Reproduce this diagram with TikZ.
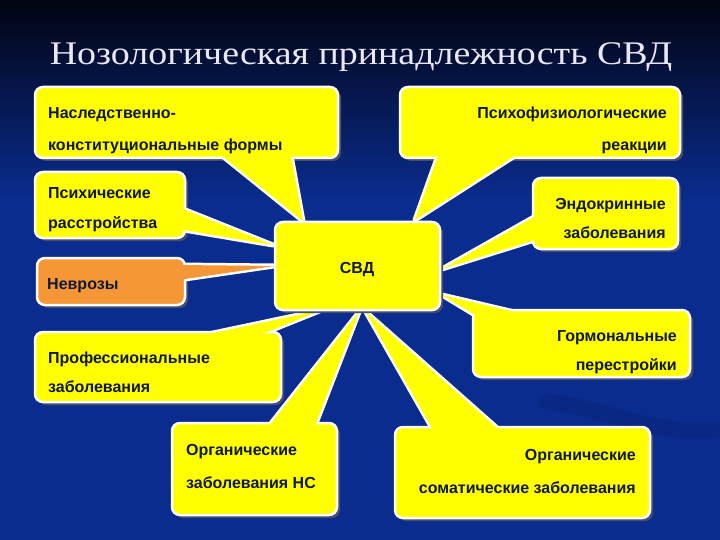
\documentclass[tikz,border=0pt]{standalone}
\usepackage{fontspec}
\setmainfont{Liberation Serif}
\newfontfamily\arialf{Liberation Sans}
\definecolor{bgtop}{RGB}{2,4,18}
\definecolor{bgmid}{RGB}{6,24,82}
\definecolor{bgblue}{RGB}{10,44,142}
\definecolor{callyel}{RGB}{255,255,0}
\definecolor{callora}{RGB}{245,150,55}
\definecolor{shadowc}{RGB}{70,76,110}
\definecolor{txtc}{RGB}{16,24,52}
\definecolor{titlec}{RGB}{232,232,248}
\tikzset{
  boxshape/.style={draw=white, line width=2.5pt, rounded corners=8pt, inner sep=0pt, outer sep=0pt, anchor=north west},
  wedgeline/.style={draw=white, line width=5pt, line join=round, line cap=round},
  lbl/.style={font=\arialf\bfseries\fontsize{16}{18}\selectfont, text=txtc, inner sep=0pt},
}
\begin{document}
\begin{tikzpicture}[x=1pt,y=-1pt]
\useasboundingbox (0,0) rectangle (720,540);
% background
\fill[bgblue] (0,0) rectangle (720,540);
\shade[top color=bgtop, middle color=bgmid, bottom color=bgblue] (0,0) rectangle (720,200);
\draw[line width=16pt, black, opacity=0.07, line cap=round] (548,402) .. controls (610,408) and (660,440) .. (730,428);

% title
\node[font=\fontsize{33}{38}\selectfont, text=titlec, anchor=base, inner sep=0pt] (title) at (361,65) {\scalebox{1.15}[1]{Нозологическая принадлежность СВД}};

% 1 Наследственно-конституциональные формы
\coordinate (w1a) at (215,150); \coordinate (w1t) at (303,221); \coordinate (w1b) at (290,150);
\fill[shadowc, rounded corners=8pt] (38,90) rectangle (341,161);
\draw[wedgeline] (w1a) -- (w1t) -- (w1b);
\node[boxshape, fill=callyel, minimum width=303, minimum height=71] (b1) at (35,87) {};
\fill[callyel] (w1a) -- (w1t) -- (w1b) -- cycle;
\node[lbl, anchor=base west] (b1l1) at (48,119) {Наследственно-};
\node[lbl, anchor=base west] (b1l2) at (48,151) {конституциональные формы};

% 2 Психофизиологические реакции
\coordinate (w2a) at (440,150); \coordinate (w2t) at (415,220); \coordinate (w2b) at (524,150);
\fill[shadowc, rounded corners=8pt] (403,90) rectangle (683,161);
\draw[wedgeline] (w2a) -- (w2t) -- (w2b);
\node[boxshape, fill=callyel, minimum width=280, minimum height=71] (b2) at (400,87) {};
\fill[callyel] (w2a) -- (w2t) -- (w2b) -- cycle;
\node[lbl, anchor=base east] (b2l1) at (667,119) {Психофизиологические};
\node[lbl, anchor=base east] (b2l2) at (667,151) {реакции};

% 3 Психические расстройства
\coordinate (w3a) at (178,207); \coordinate (w3t) at (273,245); \coordinate (w3b) at (178,229);
\fill[shadowc, rounded corners=8pt] (38,175) rectangle (188,241);
\draw[wedgeline] (w3a) -- (w3t) -- (w3b);
\node[boxshape, fill=callyel, minimum width=150, minimum height=66] (b3) at (35,172) {};
\fill[callyel] (w3a) -- (w3t) -- (w3b) -- cycle;
\node[lbl, anchor=base west] (b3l1) at (48,199) {Психические};
\node[lbl, anchor=base west] (b3l2) at (48,229) {расстройства};

% 4 Неврозы
\coordinate (w4a) at (178,265); \coordinate (w4t) at (274,266); \coordinate (w4b) at (178,280);
\fill[shadowc, rounded corners=8pt] (40,261) rectangle (188,308);
\draw[wedgeline] (w4a) -- (w4t) -- (w4b);
\node[boxshape, fill=callora, minimum width=148, minimum height=47] (b4) at (37,258) {};
\fill[callora] (w4a) -- (w4t) -- (w4b) -- cycle;
\node[lbl, anchor=base west] (b4l1) at (47,289) {Неврозы};

% 5 Профессиональные заболевания
\coordinate (w5a) at (180,340); \coordinate (w5t) at (322,310); \coordinate (w5b) at (247,340);
\fill[shadowc, rounded corners=8pt] (38,335) rectangle (284,405);
\draw[wedgeline] (w5a) -- (w5t) -- (w5b);
\node[boxshape, fill=callyel, minimum width=246, minimum height=70] (b5) at (35,332) {};
\fill[callyel] (w5a) -- (w5t) -- (w5b) -- cycle;
\node[lbl, anchor=base west] (b5l1) at (48,363) {Профессиональные};
\node[lbl, anchor=base west] (b5l2) at (48,392) {заболевания};

% 6 Эндокринные заболевания
\coordinate (w6a) at (541,213); \coordinate (w6t) at (442,269); \coordinate (w6b) at (541,238);
\fill[shadowc, rounded corners=8pt] (536,181) rectangle (681,252);
\draw[wedgeline] (w6a) -- (w6t) -- (w6b);
\node[boxshape, fill=callyel, minimum width=145, minimum height=71] (b6) at (533,178) {};
\fill[callyel] (w6a) -- (w6t) -- (w6b) -- cycle;
\node[lbl, anchor=base east] (b6l1) at (666,210) {Эндокринные};
\node[lbl, anchor=base east] (b6l2) at (666,239) {заболевания};

% 7 Гормональные перестройки
\coordinate (w7a) at (480,318); \coordinate (w7t) at (442,295); \coordinate (w7b) at (540,318);
\fill[shadowc, rounded corners=8pt] (476,313) rectangle (693,380);
\draw[wedgeline] (w7a) -- (w7t) -- (w7b);
\node[boxshape, fill=callyel, minimum width=217, minimum height=67] (b7) at (473,310) {};
\fill[callyel] (w7a) -- (w7t) -- (w7b) -- cycle;
\node[lbl, anchor=base east] (b7l1) at (677,341) {Гормональные};
\node[lbl, anchor=base east] (b7l2) at (677,370) {перестройки};

% 8 Органические заболевания НС
\coordinate (w8a) at (265,431); \coordinate (w8t) at (359,312); \coordinate (w8b) at (313,431);
\fill[shadowc, rounded corners=8pt] (175,426) rectangle (340,518);
\draw[wedgeline] (w8a) -- (w8t) -- (w8b);
\node[boxshape, fill=callyel, minimum width=165, minimum height=92] (b8) at (172,423) {};
\fill[callyel] (w8a) -- (w8t) -- (w8b) -- cycle;
\node[lbl, anchor=base west] (b8l1) at (186,455) {Органические};
\node[lbl, anchor=base west] (b8l2) at (186,488) {заболевания НС};

% 9 Органические соматические заболевания
\coordinate (w9a) at (436,435); \coordinate (w9t) at (366,312); \coordinate (w9b) at (505,435);
\fill[shadowc, rounded corners=8pt] (398,430) rectangle (653,521);
\draw[wedgeline] (w9a) -- (w9t) -- (w9b);
\node[boxshape, fill=callyel, minimum width=255, minimum height=91] (b9) at (395,427) {};
\fill[callyel] (w9a) -- (w9t) -- (w9b) -- cycle;
\node[lbl, anchor=base east] (b9l1) at (636,460) {Органические};
\node[lbl, anchor=base east] (b9l2) at (636,493) {соматические заболевания};

% centre СВД
\fill[shadowc, rounded corners=8pt] (278,225) rectangle (443,313);
\node[boxshape, fill=callyel, minimum width=165, minimum height=88] (c) at (275,222) {};
\node[lbl, anchor=base] (cl) at (357,273) {СВД};
\end{tikzpicture}
\end{document}
